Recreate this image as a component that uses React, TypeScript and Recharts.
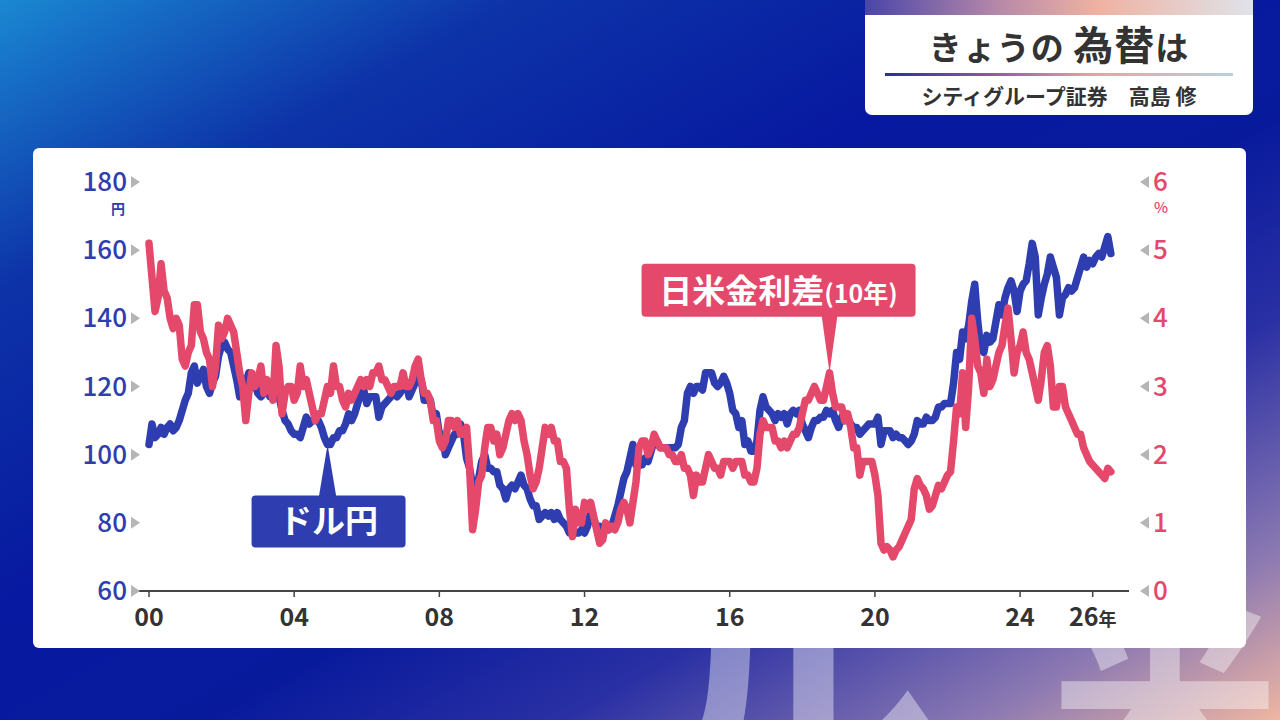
import React from 'react';
import { LineChart, Line, XAxis, YAxis, ReferenceDot } from 'recharts';

// monthly values, Jan 2000 .. Jul 2026
const usdJpy = [
  103, 109, 105, 106, 108, 106, 108, 109, 107, 108, 110, 113, // 2000
  116, 118, 124, 126, 121, 123, 125, 120, 118, 121, 123, 129, // 2001
  132, 133, 131, 130, 126, 122, 117, 119, 121, 124, 122, 121, // 2002
  118, 117, 118, 119, 117, 118, 118, 117, 113, 110, 109, 107, // 2003
  106, 106, 105, 108, 111, 109, 110, 110, 110, 108, 105, 103, // 2004
  103, 105, 105, 107, 107, 109, 112, 110, 112, 115, 118, 119, // 2005
  115, 117, 117, 117, 111, 114, 115, 116, 117, 118, 117, 118, // 2006
  120, 121, 117, 119, 121, 123, 122, 116, 116, 116, 111, 112, // 2007
  106, 106, 100, 102, 104, 106, 106, 109, 106, 99, 96, 91, // 2008
  90, 93, 98, 100, 96, 96, 95, 95, 91, 90, 87, 90, // 2009
  91, 90, 92, 94, 91, 90, 87, 85, 85, 81, 82, 83, // 2010
  82, 83, 81, 83, 81, 80, 79, 77, 77, 77, 77, 78, // 2011
  77, 79, 83, 81, 79, 79, 78, 79, 78, 79, 82, 85, // 2012
  89, 93, 95, 99, 103, 97, 99, 97, 99, 98, 101, 104, // 2013
  104, 102, 102, 102, 102, 102, 102, 103, 108, 110, 118, 120, // 2014
  118, 120, 120, 119, 124, 124, 124, 121, 120, 121, 123, 121, // 2015
  118, 113, 112, 108, 110, 103, 104, 101, 101, 104, 113, 117, // 2016
  114, 113, 112, 110, 112, 111, 112, 109, 112, 113, 112, 113, // 2017
  109, 107, 105, 108, 110, 110, 111, 111, 113, 112, 113, 110, // 2018
  108, 111, 110, 111, 109, 108, 108, 106, 107, 108, 109, 109, // 2019
  109, 111, 103, 107, 107, 107, 105, 106, 105, 105, 104, 103, // 2020
  104, 106, 110, 109, 109, 111, 110, 110, 111, 114, 114, 115, // 2021
  115, 115, 121, 130, 128, 136, 134, 138, 145, 150, 139, 131, // 2022
  130, 135, 133, 134, 139, 144, 141, 146, 149, 151, 148, 142, // 2023
  148, 150, 151, 156, 162, 158, 141, 146, 150, 153, 158, 155, // 2024
  152, 141, 146, 147, 149, 148, 149, 152, 155, 158, 155, 157, // 2025
  156, 158, 159, 158, 161, 164, 159, // 2026
];

const rateGap = [
  5.1, 4.6, 4.1, 4.3, 4.8, 4.4, 4.3, 4.0, 3.85, 4.0, 3.9, 3.4, // 2000
  3.3, 3.5, 3.6, 4.2, 4.2, 3.8, 3.7, 3.5, 3.4, 3.0, 3.3, 3.9, // 2001
  3.7, 3.8, 4.0, 3.9, 3.8, 3.5, 3.2, 3.0, 2.5, 2.9, 3.2, 3.0, // 2002
  3.1, 3.3, 2.9, 3.1, 3.0, 2.8, 3.6, 3.3, 2.6, 2.9, 3.0, 3.0, // 2003
  2.8, 2.9, 3.3, 3.0, 3.1, 2.9, 2.7, 2.5, 2.6, 2.6, 2.8, 3.0, // 2004
  2.9, 3.3, 3.0, 3.0, 2.8, 2.7, 2.9, 2.8, 2.9, 3.0, 3.1, 3.0, // 2005
  3.1, 3.0, 3.2, 3.2, 3.3, 3.1, 3.1, 3.0, 2.9, 3.0, 3.0, 3.0, // 2006
  3.2, 3.0, 3.0, 3.1, 3.3, 3.4, 3.1, 2.9, 2.9, 2.8, 2.5, 2.5, // 2007
  2.2, 2.1, 2.2, 2.5, 2.5, 2.4, 2.5, 2.3, 2.3, 2.4, 1.8, 0.9, // 2008
  1.2, 1.6, 1.7, 2.1, 2.4, 2.4, 2.2, 2.3, 2.0, 2.1, 2.3, 2.5, // 2009
  2.6, 2.5, 2.6, 2.5, 2.2, 2.0, 1.7, 1.5, 1.6, 1.8, 2.1, 2.4, // 2010
  2.3, 2.4, 2.2, 2.2, 1.9, 1.9, 1.8, 1.2, 0.8, 1.2, 1.0, 1.0, // 2011
  1.3, 1.2, 1.3, 1.1, 0.9, 0.7, 0.75, 1.0, 0.9, 0.95, 0.9, 1.0, // 2012
  1.2, 1.3, 1.2, 1.0, 1.3, 1.6, 2.1, 2.2, 2.2, 2.0, 2.1, 2.3, // 2013
  2.2, 2.1, 2.1, 2.1, 2.0, 2.0, 1.9, 1.9, 2.0, 1.8, 1.8, 1.7, // 2014
  1.4, 1.7, 1.6, 1.6, 1.8, 2.0, 1.9, 1.8, 1.8, 1.7, 1.9, 1.9, // 2015
  1.9, 1.8, 1.9, 1.9, 1.9, 1.7, 1.7, 1.6, 1.6, 1.8, 2.3, 2.5, // 2016
  2.4, 2.4, 2.4, 2.2, 2.2, 2.1, 2.2, 2.1, 2.2, 2.3, 2.3, 2.4, // 2017
  2.6, 2.8, 2.8, 2.9, 3.0, 2.9, 2.8, 2.8, 3.0, 3.2, 2.9, 2.7, // 2018
  2.7, 2.7, 2.5, 2.6, 2.4, 2.1, 2.1, 1.7, 1.9, 1.9, 1.9, 1.9, // 2019
  1.7, 1.4, 0.7, 0.6, 0.65, 0.6, 0.5, 0.6, 0.65, 0.75, 0.85, 0.95, // 2020
  1.05, 1.5, 1.65, 1.55, 1.5, 1.4, 1.2, 1.25, 1.4, 1.55, 1.5, 1.6, // 2021
  1.7, 1.75, 2.2, 2.7, 2.6, 3.2, 2.4, 3.0, 4.0, 3.7, 3.3, 3.2, // 2022
  2.9, 3.4, 3.0, 3.1, 3.3, 3.5, 3.6, 3.9, 4.15, 3.7, 3.2, 3.5, // 2023
  3.6, 3.8, 3.5, 3.4, 3.2, 3.0, 2.8, 3.1, 3.5, 3.6, 3.3, 2.7, // 2024
  2.7, 3.0, 3.0, 2.7, 2.6, 2.5, 2.4, 2.3, 2.3, 2.1, 2.0, 1.9, // 2025
  1.85, 1.8, 1.75, 1.7, 1.65, 1.8, 1.75, // 2026
];

const xTicks = [0, 4, 8, 12, 16, 20, 24, 26];
const xTickLabels = ['00', '04', '08', '12', '16', '20', '24', '26'];
const yenTicks = [60, 80, 100, 120, 140, 160, 180];
const gapTicks = [0, 1, 2, 3, 4, 5, 6];

const data = usdJpy.map((v, i) => ({ t: i / 12, usd: v, gap: rateGap[i] }));

const FONT = '"Noto Sans CJK JP", "Noto Sans", sans-serif';
const BLUE = '#2E3DB0';
const RED = '#E4486A';

const XTick = (props: any) => {
  const { x, y, payload } = props;
  const idx = xTicks.indexOf(payload.value);
  const last = idx === xTicks.length - 1;
  return (
    <text x={x} y={y + 27} textAnchor="middle" fontFamily={FONT} fontSize={25} fontWeight={700} fill="#333">
      {xTickLabels[idx]}
      {last && <tspan fontSize={18}>年</tspan>}
    </text>
  );
};

const LeftTick = (props: any) => {
  const { y, payload } = props;
  return (
    <g>
      <text x={127} y={y + 9} textAnchor="end" fontFamily={FONT} fontSize={26} fontWeight={500} fill={BLUE}>
        {payload.value}
      </text>
      <polygon points={`131,${y - 6} 131,${y + 6} 140,${y}`} fill="#b5b5b5" />
      {payload.value === 180 && (
        <text x={118} y={y + 32} textAnchor="middle" fontFamily={FONT} fontSize={14} fontWeight={700} fill={BLUE}>
          円
        </text>
      )}
    </g>
  );
};

const RightTick = (props: any) => {
  const { y, payload } = props;
  return (
    <g>
      <polygon points={`1149,${y - 6} 1149,${y + 6} 1140,${y}`} fill="#b5b5b5" />
      <text x={1153} y={y + 9} textAnchor="start" fontFamily={FONT} fontSize={26} fontWeight={500} fill={RED}>
        {payload.value}
      </text>
      {payload.value === 6 && (
        <text x={1161} y={y + 31} textAnchor="middle" fontFamily={FONT} fontSize={15} fontWeight={500} fill={RED}>
          %
        </text>
      )}
    </g>
  );
};

const YenCallout = (props: any) => {
  const { cx, cy } = props;
  return (
    <g>
      <polygon points={`${cx},${cy} ${cx - 9},${cy + 54} ${cx + 9},${cy + 54}`} fill={BLUE} />
      <rect x={cx - 76} y={cy + 51} width={154} height={52} rx={4} fill={BLUE} />
      <text x={cx + 1} y={cy + 89} textAnchor="middle" fontFamily={FONT} fontSize={33} fontWeight={700} fill="#fff">
        ドル円
      </text>
    </g>
  );
};

const GapCallout = (props: any) => {
  const { cx, cy } = props;
  return (
    <g>
      <polygon points={`${cx},${cy} ${cx - 8},${cy - 58} ${cx + 8},${cy - 58}`} fill={RED} />
      <rect x={cx - 188} y={cy - 109} width={274} height={53} rx={4} fill={RED} />
      <text x={cx - 51} y={cy - 70} textAnchor="middle" fontFamily={FONT} fontSize={33} fontWeight={700} fill="#fff">
        日米金利差<tspan fontSize={25}>(10年)</tspan>
      </text>
    </g>
  );
};

export default function App() {
  return (
    <div
      style={{
        position: 'fixed',
        left: 0,
        top: 0,
        width: 1280,
        height: 720,
        overflow: 'hidden',
        fontFamily: FONT,
        background:
          'linear-gradient(to bottom right, #1a88d2 0%, #0d33a8 20%, #0719a0 42%, #081a9c 58%, #2a30a4 72%, #8a78b2 88%, #efb6a2 100%)',
      }}
    >
      {/* faint background lettering, behind the panel */}
      <svg width={1280} height={720} style={{ position: 'absolute', left: 0, top: 0 }}>
        <g fill="#ffffff" opacity={0.4} fontFamily={FONT} fontWeight={700}>
          <text x={640} y={800} fontSize={300}>ル</text>
          <text x={1050} y={790} fontSize={230}>米</text>
        </g>
      </svg>

      {/* title box */}
      <div
        style={{
          position: 'absolute',
          left: 865,
          top: -6,
          width: 388,
          height: 121,
          background: '#fff',
          borderRadius: 7,
          overflow: 'hidden',
        }}
      >
        <div
          style={{
            height: 21,
            background: 'linear-gradient(90deg, #4a45a8 0%, #b88aa8 35%, #efb2a2 60%, #dfe3ea 100%)',
          }}
        />
        <div
          style={{
            position: 'absolute',
            top: 28,
            width: '100%',
            textAlign: 'center',
            fontSize: 33,
            fontWeight: 700,
            color: '#333',
            letterSpacing: 1,
            lineHeight: '42px',
          }}
        >
          きょうの <span style={{ fontSize: 40 }}>為替</span>は
        </div>
        <div
          style={{
            position: 'absolute',
            left: 20,
            top: 79,
            width: 348,
            height: 3,
            background: 'linear-gradient(90deg, #2a2e9e 0%, #8a5aa0 30%, #e9a2a2 60%, #b6d2da 100%)',
          }}
        />
        <div
          style={{
            position: 'absolute',
            top: 88,
            width: '100%',
            textAlign: 'center',
            fontSize: 21,
            fontWeight: 700,
            color: '#333',
            lineHeight: '26px',
          }}
        >
          シティグループ証券　高島 修
        </div>
      </div>

      {/* chart panel */}
      <div
        style={{
          position: 'absolute',
          left: 33,
          top: 148,
          width: 1213,
          height: 500,
          background: '#fff',
          borderRadius: 6,
        }}
      />

      <div style={{ position: 'absolute', left: 0, top: 0 }}>
        <LineChart width={1280} height={720} data={data} margin={{ top: 182, right: 0, bottom: 89, left: 0 }}>
          <XAxis
            dataKey="t"
            type="number"
            domain={[-0.33, 27]}
            allowDataOverflow
            ticks={xTicks}
            interval={0}
            height={40}
            tick={<XTick />}
            tickSize={6}
            axisLine={{ stroke: '#444', strokeWidth: 2 }}
            tickLine={{ stroke: '#444', strokeWidth: 1.5 }}
          />
          <YAxis
            yAxisId="left"
            orientation="left"
            domain={[60, 180]}
            ticks={yenTicks}
            interval={0}
            width={137}
            axisLine={false}
            tickLine={false}
            tick={<LeftTick />}
          />
          <YAxis
            yAxisId="right"
            orientation="right"
            domain={[0, 6]}
            ticks={gapTicks}
            interval={0}
            width={151}
            axisLine={false}
            tickLine={false}
            tick={<RightTick />}
          />
          <Line
            yAxisId="left"
            dataKey="usd"
            type="linear"
            stroke={BLUE}
            strokeWidth={7.5}
            strokeLinejoin="round"
            strokeLinecap="round"
            dot={false}
            isAnimationActive={false}
          />
          <Line
            yAxisId="right"
            dataKey="gap"
            type="linear"
            stroke={RED}
            strokeWidth={7.5}
            strokeLinejoin="round"
            strokeLinecap="round"
            dot={false}
            isAnimationActive={false}
          />
          <ReferenceDot yAxisId="left" x={4.92} y={103} r={0} shape={<YenCallout />} />
          <ReferenceDot yAxisId="right" x={18.75} y={3.2} r={0} shape={<GapCallout />} />
        </LineChart>
      </div>
    </div>
  );
}
